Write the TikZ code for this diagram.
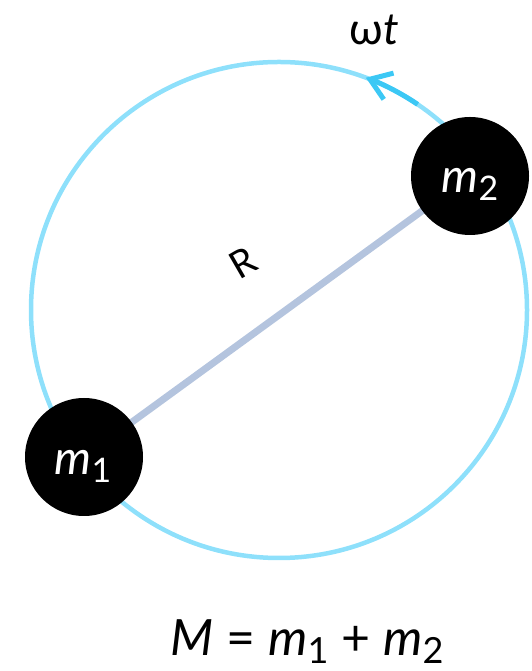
\documentclass[tikz,border=0pt]{standalone}
\usepackage{fontspec}
\setmainfont{Lato}
\usetikzlibrary{arrows.meta}
\definecolor{orbit}{HTML}{8EE0FB}
\definecolor{orbitdark}{HTML}{3CC8F5}
\definecolor{rodcol}{HTML}{B4C4DE}
\newcommand\msub[2]{\textit{#1}\raisebox{-0.16em}{\scalebox{0.72}{#2}}}
\tikzset{
  ball/.style={circle, fill=black, minimum size=118pt, inner sep=0pt},
  orbitline/.style={draw=orbit, line width=4.5pt},
  rod/.style={draw=rodcol, line width=7pt},
  lbl/.style={inner sep=0pt, text=black},
  balllbl/.style={inner sep=0pt, anchor=base, text=white, font=\fontsize{47}{50}\selectfont}
}
\begin{document}
\begin{tikzpicture}[x=1pt,y=1pt]
\useasboundingbox (0,0) rectangle (531,671);
\coordinate (c) at (279,361);
\coordinate (p1) at (84,214);
\coordinate (p2) at (470,495);
\draw[orbitline] (c) circle[radius=248pt];
\draw[draw=orbitdark, line width=5pt, -{Straight Barb[length=20pt,width=28pt]}]
  ([shift={(56:248pt)}]c) arc[start angle=56, end angle=69.5, radius=248pt];
\draw[rod] (p1) -- (p2);
\node[ball] (m1) at (p1) {};
\node[ball] (m2) at (p2) {};
\node[balllbl] (t1) at (83,196) {\msub{m}{1}};
\node[balllbl] (t2) at (470,478) {\msub{m}{2}};
\node[lbl, rotate=30, font=\fontsize{38}{40}\selectfont] (r) at (243,408) {R};
\node[lbl, anchor=base, font=\fontsize{50}{54}\selectfont] (w) at (374,626) {\fontsize{44}{48}\selectfont ω\textit{t}};
\node[lbl, anchor=base, font=\fontsize{50}{54}\selectfont] (eq) at (307,16) {\textit{M} = \msub{m}{1} + \msub{m}{2}};
\end{tikzpicture}
\end{document}
